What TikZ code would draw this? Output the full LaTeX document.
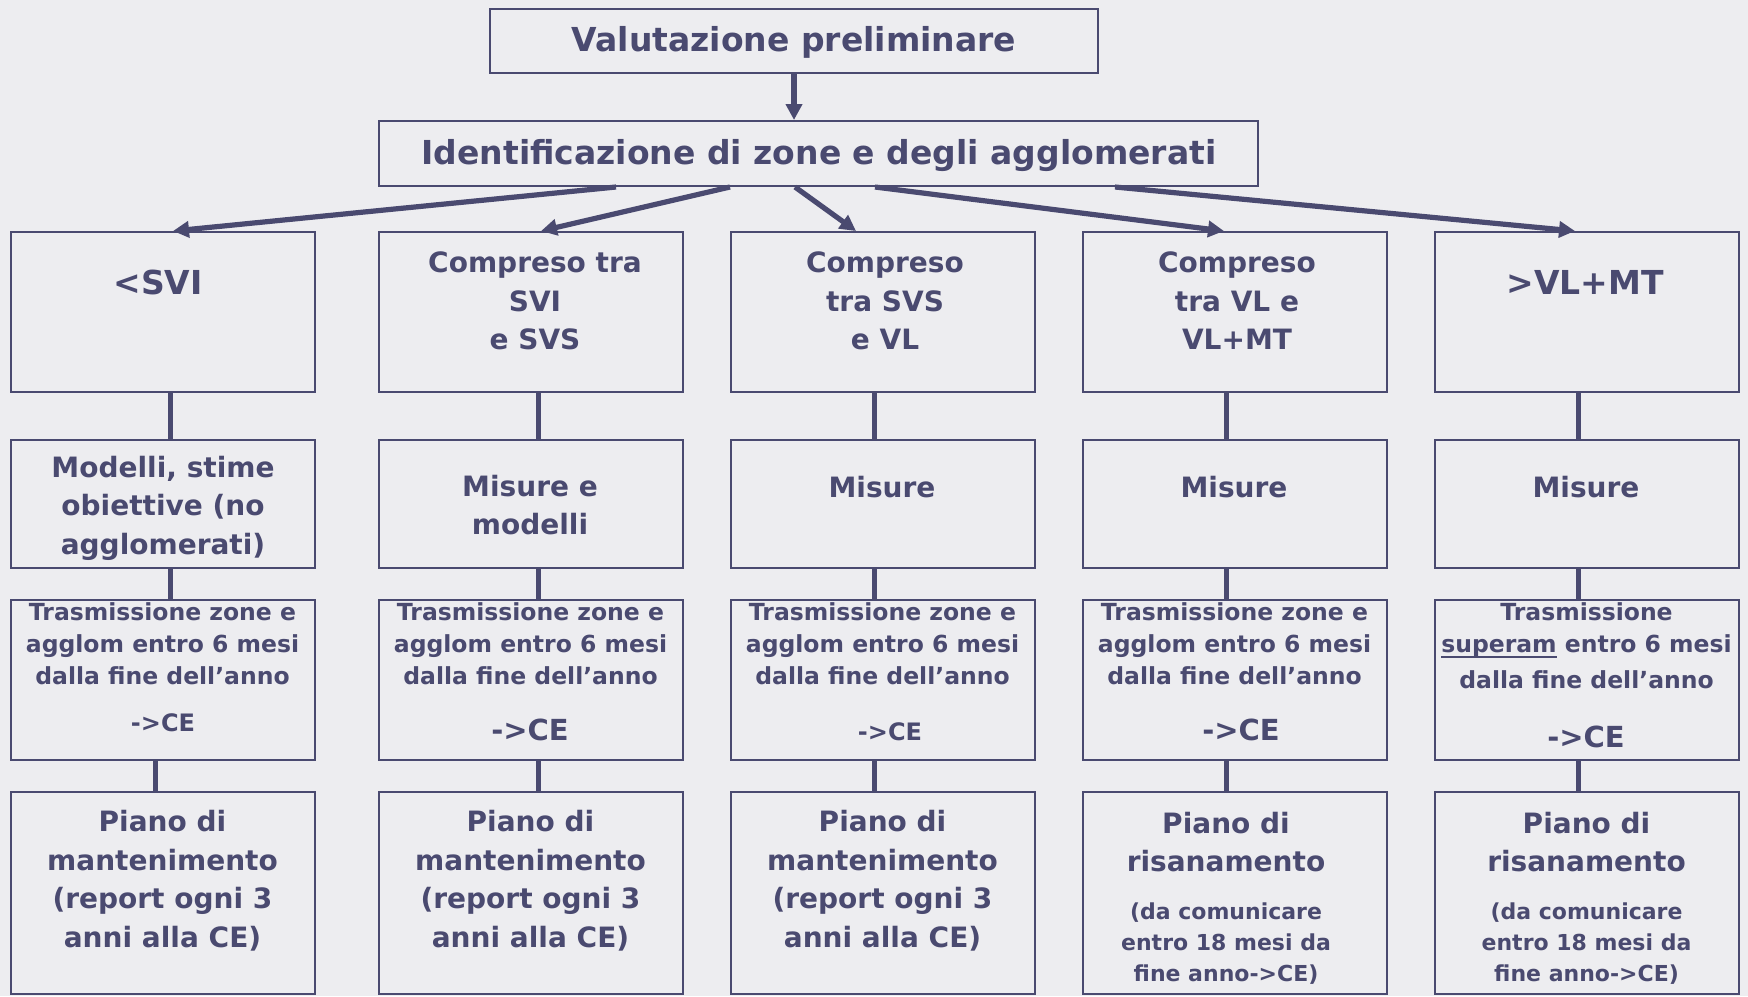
\documentclass[tikz,border=0pt]{standalone}
\usepackage{fontspec}
\setmainfont{DejaVu Sans}
\usetikzlibrary{arrows.meta}
\definecolor{ink}{RGB}{74,74,112}
\definecolor{paper}{RGB}{237,237,240}
\newcommand\myul[1]{\setbox0\hbox{#1}\rlap{\rule[-2.6pt]{\wd0}{1pt}}\box0\relax}
\newcommand\fsA{\fontsize{16.5}{20}\selectfont\bfseries}
\newcommand\fsB{\fontsize{14}{19.25}\selectfont\bfseries}
\newcommand\fsC{\fontsize{11.75}{16}\selectfont\bfseries}
\newcommand\fsD{\fontsize{11}{15.5}\selectfont\bfseries}
\newcommand\fsE{\fontsize{12}{14}\selectfont\bfseries}
\newcommand\fsF{\fontsize{14.5}{17}\selectfont\bfseries}
\begin{document}
\begin{tikzpicture}[x=0.5pt,y=-0.5pt,
  box/.style={draw=ink,line width=1pt,minimum width=152pt,inner sep=0pt},
  txt/.style={text=ink,align=center,inner sep=0pt},
  conn/.style={draw=ink,line width=2.5pt},
  arr/.style={draw=ink,line width=2.6pt,-{Triangle[length=8pt,width=8pt]}}]
\fill[paper] (0,0) rectangle (1748,996);
\useasboundingbox (0,0) rectangle (1748,996);

% boxes
\node[box,minimum width=304pt,minimum height=32pt] (top) at (794,41) {};
\node[box,minimum width=439.5pt,minimum height=32.5pt] (ident) at (818.5,153.5) {};
\foreach \c/\x in {1/162.5,2/530.5,3/882.5,4/1234.5,5/1586.5}{
  \node[box,minimum height=80pt] (r1c\c) at (\x,312) {};
  \node[box,minimum height=64pt] (r2c\c) at (\x,504) {};
  \node[box,minimum height=80pt] (r3c\c) at (\x,680) {};
  \node[box,minimum height=101pt] (r4c\c) at (\x,893) {};
}

% texts
\node[txt,font=\fsA] (ttop) at (794,42) {Valutazione preliminare};
\node[txt,font=\fsA] (tident) at (819,156) {Identificazione di zone e degli agglomerati};

\node[txt,font=\fsA] (t1c1) at (158,282) {<SVI};
\node[txt,font=\fsB] (t1c2) at (535,301) {Compreso tra\\SVI\\e SVS};
\node[txt,font=\fsB] (t1c3) at (885,301) {Compreso\\tra SVS\\e VL};
\node[txt,font=\fsB] (t1c4) at (1237,301) {Compreso\\tra VL e\\VL+MT};
\node[txt,font=\fsA] (t1c5) at (1585,282) {>VL+MT};

\node[txt,font=\fsB] (t2c1) at (163,508) {Modelli, stime\\obiettive (no\\agglomerati)};
\node[txt,font=\fsB] (t2c2) at (530,505) {Misure e\\modelli};
\node[txt,font=\fsB] (t2c3) at (882,487) {Misure};
\node[txt,font=\fsB] (t2c4) at (1234,487) {Misure};
\node[txt,font=\fsB] (t2c5) at (1586,487) {Misure};

\node[txt,font=\fsC] (t3c1) at (162.5,644) {Trasmissione zone e\\agglom entro 6 mesi\\dalla fine dell’anno};
\node[txt,font=\fsC] (t3c2) at (530.5,644) {Trasmissione zone e\\agglom entro 6 mesi\\dalla fine dell’anno};
\node[txt,font=\fsC] (t3c3) at (882.5,644) {Trasmissione zone e\\agglom entro 6 mesi\\dalla fine dell’anno};
\node[txt,font=\fsC] (t3c4) at (1234.5,644) {Trasmissione zone e\\agglom entro 6 mesi\\dalla fine dell’anno};
\node[txt,font=\fsC] (t3c5) at (1586.5,646) {Trasmissione\\\myul{superam} entro 6 mesi\\[2pt]dalla fine dell’anno};
\node[txt,font=\fsE] (ce1) at (163,723) {->CE};
\node[txt,font=\fsF] (ce2) at (530,730) {->CE};
\node[txt,font=\fsE] (ce3) at (890,732) {->CE};
\node[txt,font=\fsF] (ce4) at (1241,730) {->CE};
\node[txt,font=\fsF] (ce5) at (1586,737) {->CE};

\node[txt,font=\fsB] (t4c1) at (162.5,880.5) {Piano di\\mantenimento\\(report ogni 3\\anni alla CE)};
\node[txt,font=\fsB] (t4c2) at (530.5,880.5) {Piano di\\mantenimento\\(report ogni 3\\anni alla CE)};
\node[txt,font=\fsB] (t4c3) at (882.5,880.5) {Piano di\\mantenimento\\(report ogni 3\\anni alla CE)};
\node[txt,font=\fsB] (t4c4) at (1226,842) {Piano di\\risanamento};
\node[txt,font=\fsD] (t4c4b) at (1226,944) {(da comunicare\\entro 18 mesi da\\fine anno->CE)};
\node[txt,font=\fsB] (t4c5) at (1586.5,842) {Piano di\\risanamento};
\node[txt,font=\fsD] (t4c5b) at (1586.5,944) {(da comunicare\\entro 18 mesi da\\fine anno->CE)};

% vertical connectors
\coordinate (k1) at (170,0);
\coordinate (k1b) at (155,0);
\coordinate (k2) at (538,0);
\coordinate (k3) at (874,0);
\coordinate (k4) at (1226,0);
\coordinate (k5) at (1578,0);
\draw[conn] (r1c1.south -| k1) -- (r2c1.north -| k1);
\draw[conn] (r2c1.south -| k1) -- (r3c1.north -| k1);
\draw[conn] (r3c1.south -| k1b) -- (r4c1.north -| k1b);
\foreach \c in {2,3,4,5}{
  \draw[conn] (r1c\c.south -| k\c) -- (r2c\c.north -| k\c);
  \draw[conn] (r2c\c.south -| k\c) -- (r3c\c.north -| k\c);
  \draw[conn] (r3c\c.south -| k\c) -- (r4c\c.north -| k\c);
}

% arrows
\draw[arr] (top.south) -- (ident.north -| top.south);
\coordinate (s1) at (616,0);
\coordinate (s2) at (730,0);
\coordinate (s3) at (795,0);
\coordinate (s4) at (875,0);
\coordinate (s5) at (1115,0);
\coordinate (e1) at (173,0);
\coordinate (e2) at (541,0);
\coordinate (e3) at (856,0);
\coordinate (e4) at (1224,0);
\coordinate (e5) at (1575,0);
\foreach \c in {1,...,5}{
  \draw[arr] (ident.south -| s\c) -- (r1c\c.north -| e\c);
}
\end{tikzpicture}
\end{document}
